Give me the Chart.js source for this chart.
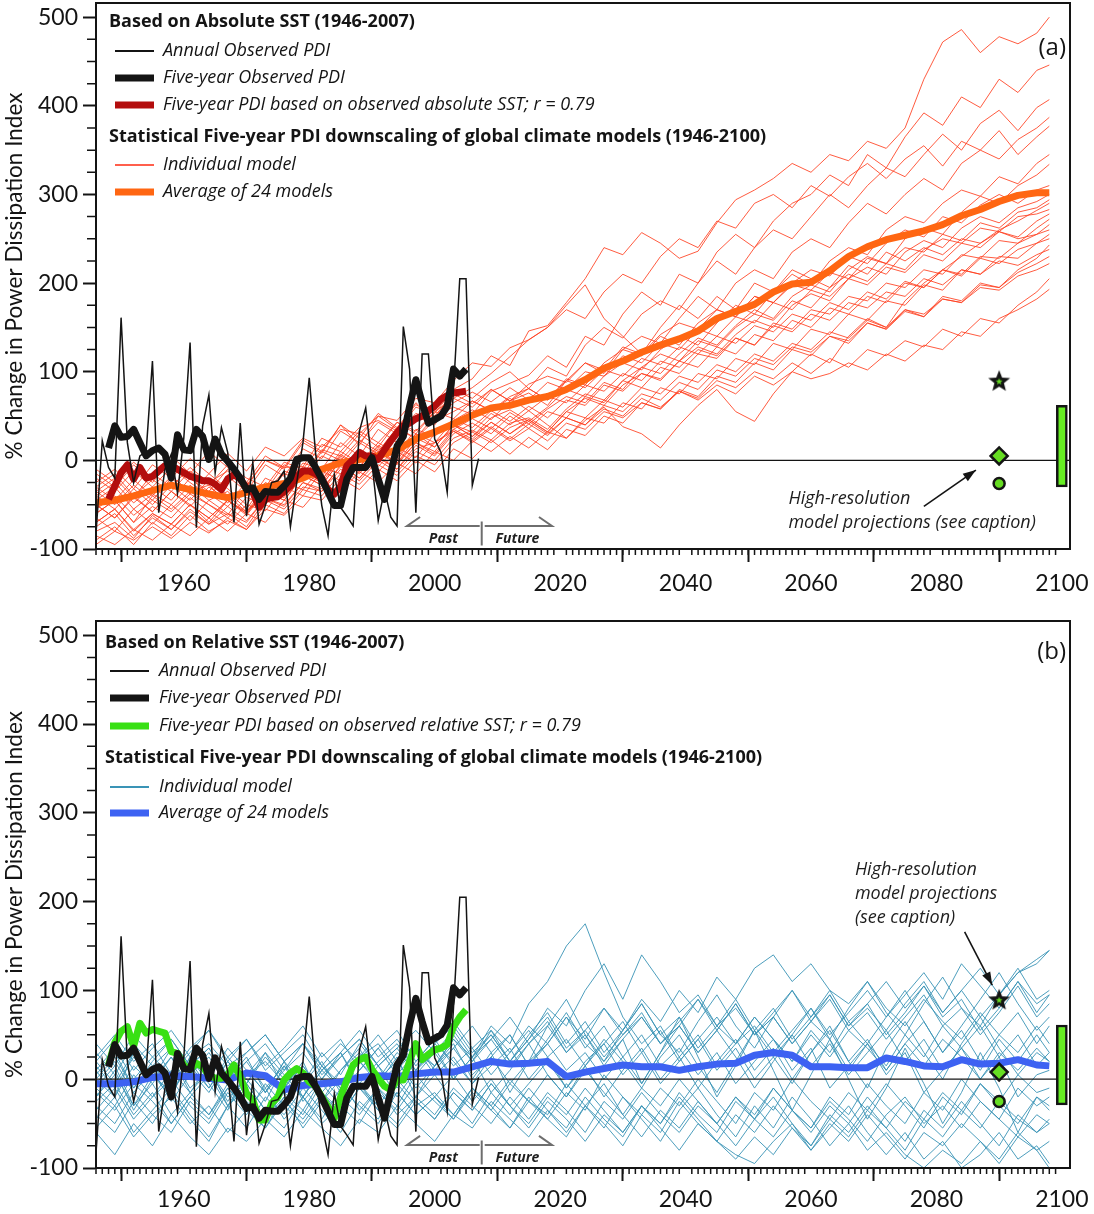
<!DOCTYPE html>
<html>
<head>
<meta charset="utf-8">
<script src="https://cdn.jsdelivr.net/npm/chart.js@4.4.1/dist/chart.umd.min.js"></script>
<style>
  html, body { margin: 0; padding: 0; background: #fff; }
  #wrapA { position: absolute; left: 0; top: 0; width: 1094px; height: 600px; }
  #wrapB { position: absolute; left: 0; top: 600px; width: 1094px; height: 614px; }
</style>
</head>
<body>
<div id="wrapA"><canvas id="chartA"></canvas></div>
<div id="wrapB"><canvas id="chartB"></canvas></div>
<script>
// ---- axes ----
const xMin = 1946, xMax = 2101.3;
const yMin = -100, yMax = 516;
const xTickLabels = [1960, 1980, 2000, 2020, 2040, 2060, 2080, 2100];
const yTickValues = [-100, 0, 100, 200, 300, 400, 500];

// ---- observations (same in both panels) ----
const annualStart = 1946;
const annualPDI = [-83, 22, -8, -20, 161, 20, -25, 5, 10, 112,
  -59, -10, 7, -37, 25, 133, -76, 39, 74, -14,
  37, 9, -70, 42, -63, -2, -72, -51, -25, -23,
  -12, -75, -25, 20, 93, 9, -51, -85, -16, -53,
  -63, -74, 33, 59, -3, -68, -33, -64, -74, 151,
  103, -59, 120, 120, 24, 9, -36, 80, 205, 205,
  -28, 2];
const fiveStart = 1948;
const fiveYearPDI = [14, 39, 26, 27, 35, 20, 5, 11, 14, 7,
  -20, 29, 12, 11, 35, 27, 1, 24, 7, -1,
  -10, -20, -33, -31, -44, -35, -36, -36, -29, -20,
  1, 3, 3, -8, -21, -36, -51, -51, -21, -8,
  -8, -8, 3, -21, -44, -14, 16, 27, 61, 91,
  65, 42, 46, 50, 61, 103, 95, 103];
const sstAbsolutePDI = [-44, -29, -14, -5, -21, -8, -20, -18, -12, -6,
  -6, -10, -14, -18, -20, -23, -23, -27, -33, -21,
  -16, -21, -31, -36, -53, -44, -42, -41, -35, -29,
  -18, -12, -12, -15, -21, -33, -38, -29, -6, 1,
  9, 5, 5, 1, 12, 22, 31, 39, 42, 47,
  50, 56, 61, 69, 73, 76, 77, 78];
const sstRelativePDI = [16, 41, 54, 59, 37, 63, 52, 56, 54, 52,
  31, 29, 16, 11, 18, 14, 5, 1, 1, 5,
  16, 3, -16, -23, -46, -46, -27, -20, -1, 7,
  12, 7, -3, -8, -20, -31, -44, -20, -1, 16,
  22, 25, 11, 1, -8, -12, -1, -1, 20, 40,
  22, 28, 33, 35, 39, 59, 70, 78];

// ---- downscaled models ----
const modelYears = [1946, 1949, 1952, 1955, 1958, 1961, 1964, 1967, 1970, 1973,
  1976, 1979, 1982, 1985, 1988, 1991, 1994, 1997, 2000, 2003,
  2006, 2009, 2012, 2015, 2018, 2021, 2024, 2027, 2030, 2033,
  2036, 2039, 2042, 2045, 2048, 2051, 2054, 2057, 2060, 2063,
  2066, 2069, 2072, 2075, 2078, 2081, 2084, 2087, 2090, 2093,
  2096, 2098];
const averageAbsolute = [-48, -45, -40, -34, -28, -33, -38, -42, -36, -30,
  -26, -20, -10, -3, 1, 5, 12, 24, 32, 41,
  51, 59, 62, 68, 72, 80, 91, 104, 112, 122,
  130, 137, 146, 160, 168, 176, 190, 199, 201, 214,
  230, 241, 249, 254, 259, 266, 276, 283, 292, 299,
  302, 302];
const averageRelative = [-5, -5, -3, 2, 4, 3, 1, -1, 7, 4,
  -12, -7, -5, -3, 2, 4, 3, 6, 8, 8,
  14, 20, 17, 18, 20, 3, 8, 12, 16, 14,
  14, 10, 14, 17, 18, 27, 30, 27, 14, 14,
  13, 13, 24, 20, 15, 14, 22, 17, 18, 22,
  16, 15];

const modelsAbsolute = [
  [-35,-20,-42,-15,-30,-8,-25,-12,-30,0,-8,-7,25,15,37,45,33,60,53,80,92,118,107,146,152,178,205,240,232,257,245,228,236,268,294,305,318,335,325,345,338,360,352,375,430,472,486,460,478,470,482,500],
  [-60,-45,-70,-40,-55,-35,-50,-62,-30,-40,-15,-23,5,-5,20,7,35,25,50,60,52,78,87,96,118,105,140,130,165,190,175,210,200,235,255,240,270,290,300,322,310,345,330,365,392,378,410,398,430,415,440,446],
  [-15,-30,-5,-25,0,-20,-35,-10,-28,0,-10,20,8,40,17,50,35,65,47,80,70,88,100,81,105,95,130,150,138,165,180,170,200,225,210,240,260,250,275,300,285,310,330,320,345,368,350,380,395,372,398,407],
  [-70,-55,-80,-60,-72,-50,-65,-45,-58,-35,-40,-15,-22,5,-7,15,0,30,20,45,57,46,67,76,62,90,110,98,125,140,132,160,185,170,200,215,205,235,250,240,268,290,278,300,318,305,335,350,340,362,375,387],
  [-25,-10,-32,-5,-20,2,-15,8,-12,15,5,25,15,35,30,50,45,70,65,90,110,106,127,136,150,170,160,190,210,200,230,250,240,270,262,290,300,285,310,298,320,335,318,340,355,332,360,350,372,345,365,377],
  [-50,-65,-40,-58,-35,-50,-70,-45,-60,-33,-42,-15,-25,3,-10,13,-3,25,15,40,27,48,57,44,60,80,72,95,110,102,125,140,130,155,175,165,190,210,198,225,240,232,260,275,268,290,305,298,320,312,335,345],
  [-80,-70,-88,-62,-78,-55,-72,-60,-75,-45,-55,-30,-35,-10,-23,0,-13,10,0,25,34,23,42,48,35,58,75,68,90,105,98,120,138,130,152,170,160,185,198,190,215,230,222,250,262,255,280,298,290,310,322,334],
  [-40,-25,-48,-30,-45,-20,-38,-52,-30,-37,-12,-20,10,0,23,10,37,25,45,55,67,56,72,81,68,92,85,110,125,118,140,130,155,170,162,185,178,200,215,208,230,222,245,260,252,275,268,288,300,290,305,310],
  [-90,-75,-95,-70,-85,-62,-80,-68,-78,-50,-60,-33,-40,-15,-27,-5,-17,5,-5,20,32,20,37,46,32,55,70,62,85,98,90,112,128,120,142,158,150,175,188,180,205,218,210,235,248,240,262,275,268,285,292,300],
  [-30,-45,-22,-40,-18,-35,-28,-48,-25,-35,-5,-15,12,5,30,15,43,33,55,70,60,80,67,86,95,88,110,102,128,120,142,155,148,170,162,185,178,198,192,212,205,228,222,240,235,255,248,268,262,280,285,294],
  [-55,-40,-62,-45,-58,-38,-50,-65,-42,-50,-25,-33,-8,-15,5,-7,15,3,30,40,32,53,40,56,40,25,45,60,38,30,14,40,62,80,55,44,75,100,120,110,140,160,150,180,200,215,230,245,260,270,282,290],
  [-65,-80,-55,-72,-50,-68,-45,-60,-70,-43,-52,-25,-32,-7,-20,3,-10,13,20,35,47,36,54,41,58,72,65,88,80,105,120,112,135,128,150,165,158,180,172,195,210,202,222,215,238,250,245,262,258,275,278,283],
  [-20,-35,-12,-30,-8,-25,-40,-18,-35,-5,-18,13,2,33,20,43,30,53,45,65,77,66,82,68,88,80,100,95,118,110,132,125,148,140,162,155,178,170,192,185,205,198,218,212,232,225,245,240,258,252,270,278],
  [-75,-60,-85,-65,-78,-58,-72,-52,-68,-43,-50,-25,-35,-5,-20,5,-10,17,5,30,42,30,50,36,55,48,72,65,90,82,105,98,120,115,138,130,155,148,170,165,185,180,200,195,215,210,232,228,248,245,262,272],
  [-45,-30,-55,-38,-50,-28,-45,-35,-55,-25,-35,-7,-18,10,-3,20,7,35,27,47,37,56,44,61,48,68,62,85,78,98,92,112,105,128,120,142,135,158,150,172,165,185,178,200,195,215,210,230,228,245,255,266],
  [-35,-50,-28,-45,-20,-38,-15,-32,-50,-20,-30,-3,-10,20,5,35,20,50,40,70,82,98,117,136,150,175,198,160,140,120,150,175,160,185,170,200,190,215,205,195,220,210,235,225,240,232,250,245,258,250,255,260],
  [-85,-95,-78,-90,-72,-85,-65,-80,-60,-70,-45,-53,-28,-35,-13,-25,-3,-15,10,0,22,10,27,14,32,25,48,42,65,58,82,75,98,92,115,108,132,125,148,142,165,158,180,175,198,192,215,210,230,228,245,255],
  [-10,-25,-2,-20,5,-15,10,-8,-25,5,-8,23,10,40,25,53,37,63,50,75,64,80,67,81,68,90,82,102,95,115,108,128,120,140,132,152,145,165,158,178,170,190,182,202,195,215,208,228,222,238,245,250],
  [-60,-45,-70,-52,-65,-42,-58,-72,-50,-57,-30,-40,-12,-23,0,-13,10,-3,20,33,22,38,24,41,28,48,40,62,55,75,68,88,80,102,95,115,108,128,122,140,135,155,148,168,162,182,178,198,195,215,228,243],
  [-30,-15,-40,-22,-35,-12,-28,-5,-20,-30,-2,-10,18,10,33,20,43,30,55,47,67,56,70,56,72,65,85,78,98,90,112,105,125,118,138,130,152,145,165,158,178,172,190,185,205,198,215,210,225,220,232,238],
  [-95,-80,-90,-75,-88,-70,-82,-65,-78,-55,-62,-40,-45,-20,-33,-10,-23,0,-13,13,2,23,7,26,12,35,28,50,42,65,58,80,72,95,88,110,102,125,118,140,132,155,148,170,162,185,180,200,195,212,222,230],
  [-50,-65,-42,-58,-35,-52,-30,-45,-62,-35,-45,-17,-28,0,-13,10,-3,20,10,35,24,43,30,46,32,55,48,68,60,82,75,95,88,108,100,120,112,132,125,145,138,158,150,170,165,182,178,195,192,208,215,222],
  [-70,-55,-78,-60,-72,-50,-65,-45,-60,-35,-45,-17,-28,0,-15,10,-5,20,7,33,20,36,22,36,22,42,35,55,48,65,58,78,70,90,82,100,92,110,98,115,105,125,118,135,128,148,140,160,155,175,190,205],
  [-40,-55,-32,-50,-28,-45,-22,-40,-58,-30,-40,-13,-22,7,-7,17,3,30,15,40,27,43,30,44,30,48,40,58,50,70,60,78,68,85,75,95,85,100,92,98,110,102,120,112,130,125,145,140,160,170,182,193]
];

const modelsRelative = [
  [10,-20,30,5,-15,20,-10,25,0,-25,15,-5,20,-15,10,35,5,30,15,45,25,60,40,85,110,150,175,120,70,40,60,25,50,15,40,70,45,20,55,30,65,40,15,50,25,60,35,10,45,20,50,30],
  [-40,-60,-25,-50,-15,-45,-70,-30,-55,-20,-40,-10,-35,-60,-25,-45,-5,-30,-15,-40,-10,-35,-55,-20,-45,-65,-30,-50,-75,-40,-60,-25,-50,-70,-85,-95,-70,-50,-75,-40,-60,-30,-55,-80,-45,-65,-35,-55,-25,-45,-60,-50],
  [20,45,10,35,55,25,40,15,30,50,20,40,5,25,45,15,35,55,30,50,20,45,70,40,60,30,55,80,50,70,40,65,90,60,80,50,75,100,70,95,60,85,110,80,105,75,100,125,95,120,135,145],
  [-10,15,-30,5,-20,25,-5,-35,10,-15,20,-25,0,30,-10,15,-20,10,35,0,25,-15,10,40,5,-20,15,45,20,-10,25,50,15,-15,20,55,25,-5,30,60,20,-10,35,65,30,0,40,70,35,5,30,20],
  [-25,-5,-40,-15,-50,-20,5,-30,-10,-45,-20,-55,-25,0,-35,-10,-40,-20,5,-25,-50,-15,-40,-10,-35,-60,-30,-5,-40,-65,-35,-55,-25,-50,-75,-45,-20,-50,-80,-55,-30,-60,-85,-60,-90,-70,-100,-85,-60,-90,-75,-95],
  [5,30,-10,20,45,15,35,0,25,-15,10,40,15,-5,25,50,20,40,10,35,60,30,50,15,45,75,40,20,55,85,50,30,65,95,60,35,70,100,65,45,80,110,75,50,85,115,80,60,95,125,90,100],
  [-55,-30,-65,-40,-20,-50,-30,-60,-35,-10,-45,-20,-50,-30,-5,-35,-15,-40,-20,5,-25,0,-30,-5,20,-10,15,-20,10,35,0,25,-10,20,45,10,35,0,30,55,20,45,10,40,65,30,55,20,50,75,40,60],
  [40,15,50,25,5,35,55,20,45,10,30,50,15,40,20,0,30,10,40,20,-5,25,50,15,40,70,35,60,25,-5,30,60,90,55,25,-10,20,50,80,45,10,40,70,100,65,30,60,90,120,85,55,70],
  [-30,-50,-15,-40,-60,-25,-45,-10,-35,-55,-20,-40,-5,-30,-50,-15,-35,-5,-25,-45,-15,-35,-5,-25,5,-20,10,-15,-40,-10,-30,0,-25,-50,-20,-40,-10,-35,-60,-30,-50,-20,-45,-70,-35,-55,-25,-50,-75,-40,-60,-45],
  [0,-20,15,-5,25,-10,10,-25,5,20,-5,15,-15,10,30,0,20,-10,15,35,5,25,-5,20,40,10,30,0,25,50,15,35,5,30,-5,20,45,10,35,-10,15,40,5,30,-15,10,35,0,25,-20,5,10],
  [15,-10,25,0,35,10,-15,20,-5,30,5,-20,15,-10,25,40,10,35,15,45,20,55,30,60,40,70,45,80,55,90,65,100,75,115,90,125,140,110,130,100,85,110,80,60,90,65,45,75,50,30,60,40],
  [-45,-20,-60,-35,-10,-40,-65,-30,-5,-35,-55,-20,-45,-10,-30,-50,-15,-40,-20,-45,-10,-30,-55,-25,-40,-5,-30,-55,-20,-45,-70,-35,-10,-40,-65,-30,-55,-20,-45,-75,-50,-80,-60,-85,-100,-80,-95,-70,-90,-60,-80,-70],
  [25,50,20,40,5,30,55,25,45,15,35,60,25,45,10,35,55,20,45,65,35,55,20,50,75,40,65,30,55,85,50,70,35,60,90,55,80,45,70,100,65,85,50,75,105,70,90,55,80,110,75,95],
  [-15,-35,-5,-25,-50,-20,-40,-10,-30,-55,-25,-45,-15,-35,-5,-30,-50,-20,-40,-10,-30,-50,-20,-45,-15,-35,-60,-25,-45,-15,-40,-60,-30,-50,-20,-45,-65,-35,-55,-25,-45,-70,-40,-20,-50,-30,-55,-25,-45,-65,-40,-50],
  [-5,20,-15,10,-25,5,30,0,20,-10,15,-20,10,30,-5,20,40,10,30,0,25,50,20,45,80,60,100,130,90,140,110,75,95,60,40,70,45,20,50,25,55,35,10,40,15,45,25,0,30,10,35,20],
  [30,5,40,15,-10,25,0,35,10,-15,20,-5,30,5,40,15,-10,20,45,15,35,5,30,55,25,45,15,40,65,30,55,20,45,70,40,60,30,55,80,50,75,100,70,95,120,90,130,105,80,110,85,95],
  [-60,-85,-50,-75,-40,-65,-85,-55,-70,-45,-65,-35,-55,-75,-45,-60,-30,-50,-70,-40,-55,-25,-45,-65,-35,-55,-20,-45,-65,-30,-50,-15,-40,-60,-25,-45,-10,-35,-55,-20,-40,-5,-30,-50,-15,-35,0,-25,-45,-10,-30,-20],
  [10,35,0,25,45,15,35,5,30,50,20,40,10,30,55,25,45,15,40,60,30,50,20,45,70,35,55,25,50,75,40,60,30,55,85,50,70,40,65,90,55,75,45,70,95,60,80,50,75,105,70,85],
  [-20,10,-35,0,25,-15,15,-30,5,30,-10,20,-25,10,35,-5,25,-20,15,40,0,30,-15,20,60,90,50,15,45,-5,30,70,25,-20,15,55,10,-35,5,45,0,-45,-10,35,-5,-50,-15,30,-10,-60,-20,-30],
  [-35,-10,-45,-20,0,-30,-50,-15,-40,-5,-30,-50,-20,-40,-10,-35,-55,-25,-45,-15,-35,-5,-30,-50,-20,-40,-10,-35,-60,-30,-50,-20,-45,-70,-40,-60,-30,-55,-80,-50,-70,-40,-65,-90,-60,-75,-50,-70,-95,-65,-80,-100],
  [0,25,-10,15,35,5,25,-5,20,40,10,30,0,25,45,15,35,5,30,55,25,45,15,40,65,30,50,20,45,70,40,60,30,55,85,50,70,40,65,95,60,80,55,85,110,75,100,70,95,120,130,145],
  [-10,-30,5,-20,10,-15,-40,-5,-25,-45,-15,-35,0,-20,-40,-10,-30,5,-20,-40,-10,-30,0,-25,-45,-15,-35,5,-20,-40,-10,-30,0,-25,-50,-15,-35,0,-25,-45,-15,-35,-5,-30,-55,-20,-40,-5,-30,-50,-20,-35],
  [20,-5,30,5,-15,15,-10,20,-5,25,0,-20,10,-10,20,-5,15,35,5,25,-5,15,35,0,25,-10,20,40,5,30,-5,20,45,10,35,0,25,50,15,40,5,30,55,20,45,10,35,60,25,50,15,30],
  [-20,5,-30,-5,-40,-15,10,-20,-5,-35,-10,15,-15,-40,-10,-30,0,-25,-45,-15,-35,-5,-30,-55,-25,-45,-70,-40,-60,-30,-55,-80,-50,-70,-90,-65,-85,-55,-75,-45,-65,-35,-55,-25,-45,-15,-35,-5,-25,5,-15,-10]
];

// ---- high-resolution model projections ----
const hiResYear = 2090;
const hiResA = { star: 90, diamond: 5, circle: -26 };
const hiResB = { star: 90, diamond: 8, circle: -25 };
const rangeYear = 2100;
const rangeA = [-30, 62];
const rangeB = [-29, 61];

const GREEN = '#66dd22';
const INK = '#141414';
const TEXT_FONT = '"Open Sans"';
Chart.defaults.font.family = 'Lato';

function starImage() {
  const c = document.createElement('canvas');
  c.width = 26; c.height = 26;
  const g = c.getContext('2d');
  const star = (r1, r2, fill) => {
    g.beginPath();
    for (let i = 0; i < 10; i++) {
      const r = i % 2 ? r2 : r1;
      const a = -Math.PI / 2 + i * Math.PI / 5;
      g.lineTo(13 + r * Math.cos(a), 14 + r * Math.sin(a));
    }
    g.closePath();
    g.fillStyle = fill;
    g.fill();
  };
  star(11.5, 5, INK);
  star(3.6, 1.5, GREEN);
  return c;
}
const starImg = starImage();

function series(xs, ys, color, width, join) {
  return {
    type: 'line',
    data: ys.map((v, i) => ({ x: xs[i], y: v })),
    borderColor: color, borderWidth: width,
    pointRadius: 0, tension: 0, fill: false,
    borderJoinStyle: join || 'round', borderCapStyle: 'butt'
  };
}

function yearsFrom(start, n) {
  return Array.from({ length: n }, (_, i) => start + i);
}

function buildDatasets(p) {
  const list = [];
  p.models.forEach(m => list.push(series(modelYears, m, p.modelColor, 1, 'miter')));
  list.push(series([xMin, xMax], [0, 0], INK, 1.3));
  list.push(series(modelYears, p.average, p.averageColor, 7));
  list.push(series(yearsFrom(fiveStart, p.sst.length), p.sst, p.sstColor, 7));
  list.push(series(yearsFrom(annualStart, annualPDI.length), annualPDI, INK, 1.5, 'miter'));
  list.push(series(yearsFrom(fiveStart, fiveYearPDI.length), fiveYearPDI, INK, 7));
  list.push({
    type: 'bar', data: [{ x: rangeYear, y: p.range }],
    backgroundColor: '#66ee22', borderColor: INK, borderWidth: 2.5,
    borderSkipped: false, barThickness: 11
  });
  list.push({
    type: 'line', showLine: false, data: [{ x: hiResYear, y: p.hiRes.circle }],
    pointStyle: 'circle', pointRadius: 5.5, pointBackgroundColor: GREEN,
    pointBorderColor: INK, pointBorderWidth: 2.5
  });
  list.push({
    type: 'line', showLine: false, data: [{ x: hiResYear, y: p.hiRes.diamond }],
    pointStyle: 'rectRot', pointRadius: 8.5, pointBackgroundColor: GREEN,
    pointBorderColor: INK, pointBorderWidth: 2.5
  });
  list.push({
    type: 'line', showLine: false, data: [{ x: hiResYear, y: p.hiRes.star }],
    pointStyle: starImg, pointRadius: 12
  });
  // later entries are drawn on top
  list.forEach((d, i) => { d.order = list.length - i; });
  return list;
}

function arrowHead(ctx, x0, y0, x1, y1, len, half) {
  const a = Math.atan2(y1 - y0, x1 - x0);
  ctx.beginPath();
  ctx.moveTo(x1, y1);
  ctx.lineTo(x1 - len * Math.cos(a) + half * Math.sin(a), y1 - len * Math.sin(a) - half * Math.cos(a));
  ctx.lineTo(x1 - len * Math.cos(a) - half * Math.sin(a), y1 - len * Math.sin(a) + half * Math.cos(a));
  ctx.closePath();
  ctx.fill();
}

function decorPlugin(p) {
  return {
    id: 'decor',
    afterDraw(chart) {
      const { ctx, chartArea: a } = chart;
      const sx = chart.scales.x, sy = chart.scales.y;
      const X = v => sx.getPixelForValue(v), Y = v => sy.getPixelForValue(v);
      ctx.save();
      // minor ticks
      ctx.strokeStyle = INK; ctx.lineWidth = 1.5;
      ctx.beginPath();
      for (let yr = 1946; yr <= 2100; yr++) {
        if (xTickLabels.includes(yr)) continue;
        ctx.moveTo(X(yr), a.bottom); ctx.lineTo(X(yr), a.bottom + 6);
      }
      for (let v = -75; v <= 500; v += 25) {
        if (v % 100 === 0) continue;
        ctx.moveTo(a.left - 9, Y(v)); ctx.lineTo(a.left, Y(v));
      }
      ctx.stroke();
      // frame
      ctx.lineWidth = 2;
      ctx.strokeRect(a.left, a.top, a.right - a.left, a.bottom - a.top);

      // past / future marker
      const pf = { left: 1995.6, split: 2007.5, right: 2018.7, y: -74, top: -69, bottom: -96, text: -89 };
      ctx.strokeStyle = '#6e6e6e'; ctx.lineWidth = 2;
      ctx.beginPath();
      ctx.moveTo(X(pf.left) + 13, Y(pf.y) - 9); ctx.lineTo(X(pf.left), Y(pf.y)); ctx.lineTo(X(pf.split) - 2, Y(pf.y));
      ctx.moveTo(X(pf.split) + 3, Y(pf.y)); ctx.lineTo(X(pf.right), Y(pf.y)); ctx.lineTo(X(pf.right) - 13, Y(pf.y) - 9);
      ctx.moveTo(X(pf.split), Y(pf.top)); ctx.lineTo(X(pf.split), Y(pf.bottom));
      ctx.stroke();
      ctx.fillStyle = '#1e1e1e';
      ctx.font = 'italic bold 14px ' + TEXT_FONT;
      ctx.textAlign = 'center'; ctx.textBaseline = 'middle';
      ctx.fillText('Past', X(2001.4), Y(pf.text));
      ctx.fillText('Future', X(2013.2), Y(pf.text));

      // high-resolution note
      ctx.textAlign = 'left';
      ctx.font = 'italic 18px ' + TEXT_FONT;
      p.note.lines.forEach(l => ctx.fillText(l.text, X(p.note.x), Y(l.y)));
      ctx.strokeStyle = INK; ctx.fillStyle = INK; ctx.lineWidth = 1.6;
      const [ax0, ay0, ax1, ay1] = [X(p.note.arrow[0]), Y(p.note.arrow[1]), X(p.note.arrow[2]), Y(p.note.arrow[3])];
      ctx.beginPath(); ctx.moveTo(ax0, ay0); ctx.lineTo(ax1, ay1); ctx.stroke();
      arrowHead(ctx, ax0, ay0, ax1, ay1, 13, 4.5);

      // panel letter
      ctx.fillStyle = INK;
      ctx.font = '24px ' + TEXT_FONT;
      ctx.textAlign = 'right';
      ctx.fillText(p.letter, 1066, p.letterY);

      // legend
      ctx.textAlign = 'left';
      p.legend.forEach(r => {
        if (r.title) {
          ctx.font = 'bold 18px ' + TEXT_FONT;
          ctx.fillStyle = INK;
          ctx.fillText(r.text, p.legendX.title, r.y);
        } else {
          ctx.strokeStyle = r.color; ctx.lineWidth = r.w; ctx.lineCap = 'butt';
          ctx.beginPath(); ctx.moveTo(p.legendX.s0, r.y); ctx.lineTo(p.legendX.s1, r.y); ctx.stroke();
          ctx.font = 'italic 18px ' + TEXT_FONT;
          ctx.fillStyle = INK;
          ctx.fillText(r.text, p.legendX.text, r.y);
        }
      });
      ctx.restore();
    }
  };
}

function noPadding(s) {
  s.paddingTop = 0; s.paddingBottom = 0; s.paddingLeft = 0; s.paddingRight = 0;
}

function buildChart(id, p) {
  return new Chart(document.getElementById(id).getContext('2d'), {
    type: 'line',
    data: { datasets: buildDatasets(p) },
    options: {
      responsive: true, maintainAspectRatio: false, animation: false,
      layout: { autoPadding: false, padding: { top: p.padTop, right: 24, left: 0, bottom: 0 } },
      plugins: { legend: { display: false }, tooltip: { enabled: false } },
      scales: {
        x: {
          type: 'linear', min: xMin, max: xMax, offset: false,
          afterBuildTicks: s => { s.ticks = xTickLabels.map(v => ({ value: v })); },
          afterFit: s => { s.height = p.xAxisHeight; noPadding(s); },
          grid: { drawOnChartArea: false, tickLength: 13, tickWidth: 2, tickColor: INK },
          border: { color: INK, width: 2 },
          ticks: { font: { size: 23 }, color: INK, padding: p.xPad, maxRotation: 0, autoSkip: false,
                   callback: v => String(v) }
        },
        y: {
          type: 'linear', min: yMin, max: yMax,
          afterBuildTicks: s => { s.ticks = yTickValues.map(v => ({ value: v })); },
          afterFit: s => { s.width = 96; noPadding(s); },
          grid: { drawOnChartArea: false, tickLength: 13, tickWidth: 2, tickColor: INK },
          border: { color: INK, width: 2 },
          ticks: { font: { size: 23 }, color: INK, padding: 5, callback: v => String(v) },
          title: {
            display: true, text: '% Change in Power Dissipation Index',
            font: { size: 22.5 }, color: INK, padding: { top: 1, bottom: 0 }
          }
        }
      }
    },
    plugins: [decorPlugin(p)]
  });
}

buildChart('chartA', {
  padTop: 3, xAxisHeight: 51, xPad: 8,
  models: modelsAbsolute, modelColor: 'rgba(255,62,30,0.85)',
  average: averageAbsolute, averageColor: '#ff6612',
  sst: sstAbsolutePDI, sstColor: '#b30d0d',
  hiRes: hiResA, range: rangeA,
  letter: '(a)', letterY: 48,
  note: {
    x: 2056.4,
    lines: [{ text: 'High-resolution', y: -44 }, { text: 'model projections (see caption)', y: -71 }],
    arrow: [2078.0, -52, 2086.3, -11]
  },
  legendX: { title: 109, s0: 115, s1: 154, text: 163 },
  legend: [
    { title: true, text: 'Based on Absolute SST (1946-2007)', y: 22 },
    { text: 'Annual Observed PDI', y: 51, color: INK, w: 2 },
    { text: 'Five-year Observed PDI', y: 78, color: INK, w: 7 },
    { text: 'Five-year PDI based on observed absolute SST; r = 0.79', y: 105, color: '#b30d0d', w: 7 },
    { title: true, text: 'Statistical Five-year PDI downscaling of global climate models (1946-2100)', y: 137 },
    { text: 'Individual model', y: 165, color: '#ff2a10', w: 1.5 },
    { text: 'Average of 24 models', y: 192, color: '#ff6612', w: 7 }
  ]
});

buildChart('chartB', {
  padTop: 21, xAxisHeight: 46, xPad: 5,
  models: modelsRelative, modelColor: 'rgba(58,148,182,0.9)',
  average: averageRelative, averageColor: '#3d62f2',
  sst: sstRelativePDI, sstColor: '#38e014',
  hiRes: hiResB, range: rangeB,
  letter: '(b)', letterY: 52,
  note: {
    x: 2067.0,
    lines: [{ text: 'High-resolution', y: 236 }, { text: 'model projections', y: 209 }, { text: '(see caption)', y: 182 }],
    arrow: [2084.5, 166, 2088.9, 106]
  },
  legendX: { title: 105, s0: 110, s1: 149, text: 159 },
  legend: [
    { title: true, text: 'Based on Relative SST (1946-2007)', y: 43 },
    { text: 'Annual Observed PDI', y: 71, color: INK, w: 2 },
    { text: 'Five-year Observed PDI', y: 98, color: INK, w: 7 },
    { text: 'Five-year PDI based on observed relative SST; r = 0.79', y: 126, color: '#38e014', w: 7 },
    { title: true, text: 'Statistical Five-year PDI downscaling of global climate models (1946-2100)', y: 158 },
    { text: 'Individual model', y: 187, color: '#3a94b6', w: 2 },
    { text: 'Average of 24 models', y: 213, color: '#3d62f2', w: 7 }
  ]
});
</script>
</body>
</html>
